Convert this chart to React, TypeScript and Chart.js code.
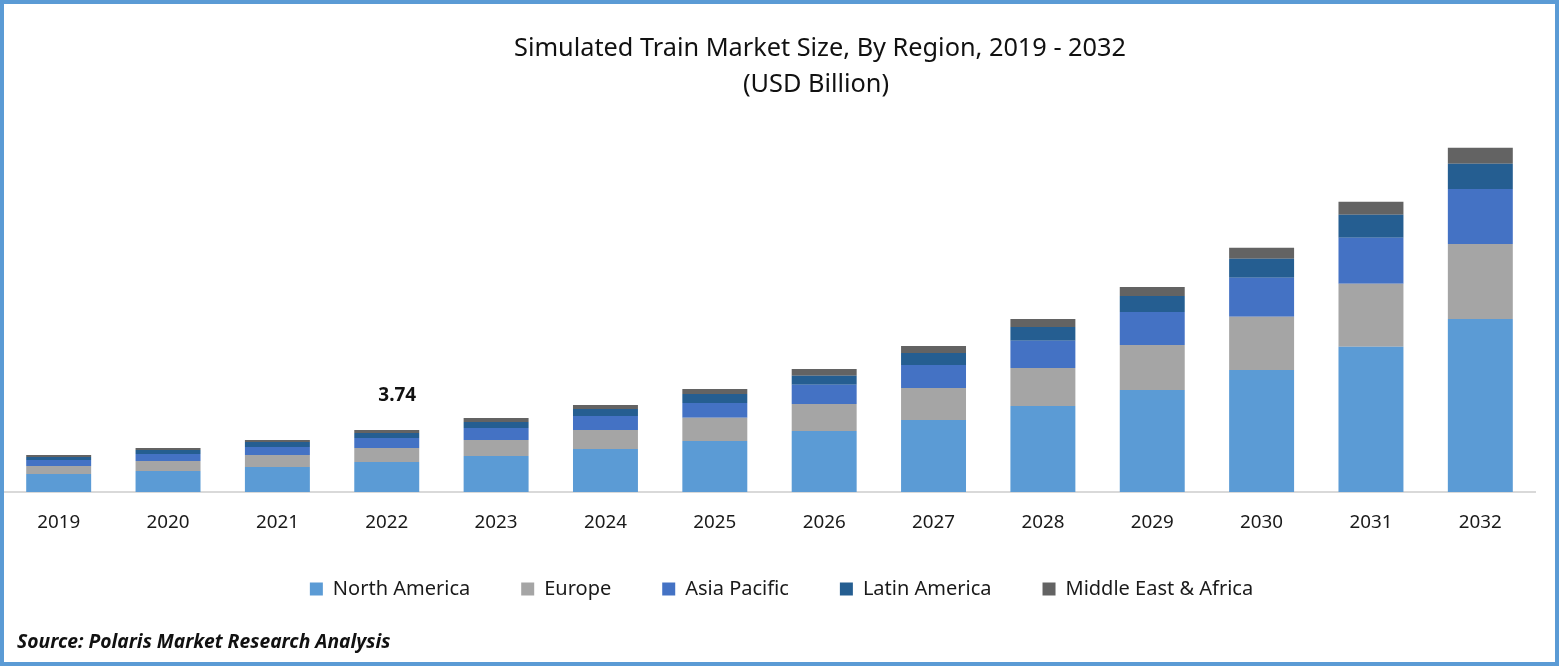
import React, { useEffect, useRef } from "react";
import { Chart, registerables } from "chart.js";

Chart.register(...registerables);

const years = ["2019","2020","2021","2022","2023","2024","2025","2026","2027","2028","2029","2030","2031","2032"];
const northAmerica = [1.09,1.27,1.51,1.81,2.17,2.59,3.08,3.68,4.34,5.19,6.15,7.36,8.75,10.43];
const europe = [0.48,0.60,0.72,0.84,0.97,1.15,1.39,1.63,1.93,2.29,2.71,3.20,3.80,4.52];
const asiaPacific = [0.36,0.42,0.48,0.60,0.72,0.84,0.90,1.15,1.39,1.63,1.99,2.35,2.77,3.32];
const latinAmerica = [0.18,0.24,0.30,0.30,0.36,0.42,0.54,0.54,0.72,0.84,0.97,1.15,1.39,1.51];
const middleEastAfrica = [0.12,0.12,0.12,0.19,0.24,0.24,0.30,0.42,0.42,0.48,0.54,0.66,0.78,0.97];
const calloutYear = "2022";
const calloutText = "3.74";
const titleLine1 = "Simulated Train Market Size, By Region, 2019 - 2032";
const titleLine2 = "(USD Billion)";
const sourceText = "Source: Polaris Market Research Analysis";

const FONT = "'Noto Sans', 'Open Sans', sans-serif";

const callout = {
  id: "callout",
  afterLayout(chart: any) {
    // the tick labels need a taller axis box than the gap to the legend allows
    chart.legend.top -= 8;
    chart.legend.bottom -= 8;
  },
  afterDatasetsDraw(chart: any) {
    const { ctx, scales } = chart;
    const i = years.indexOf(calloutYear);
    const total = [northAmerica, europe, asiaPacific, latinAmerica, middleEastAfrica].reduce((s, a) => s + a[i], 0);
    ctx.save();
    ctx.font = `bold 19px ${FONT}`;
    ctx.fillStyle = "#111111";
    ctx.textAlign = "center";
    ctx.textBaseline = "middle";
    ctx.fillText(calloutText, scales.x.getPixelForValue(i) + 10.5, scales.y.getPixelForValue(total) - 34);
    ctx.restore();
  },
};

export default function App() {
  const ref = useRef<HTMLCanvasElement>(null);
  useEffect(() => {
    const mk = (label: string, data: number[], color: string) => ({
      label, data, backgroundColor: color, borderWidth: 0,
      barPercentage: 0.594, categoryPercentage: 1,
    });
    const chart = new Chart(ref.current!, {
      type: "bar",
      data: {
        labels: years,
        datasets: [
          mk("North America", northAmerica, "#5B9BD5"),
          mk("Europe", europe, "#A5A5A5"),
          mk("Asia Pacific", asiaPacific, "#4472C4"),
          mk("Latin America", latinAmerica, "#255E91"),
          mk("Middle East & Africa", middleEastAfrica, "#636363"),
        ],
      },
      options: {
        responsive: false,
        animation: false,
        devicePixelRatio: 1,
        layout: { padding: { left: 4, right: 0, top: 127, bottom: 49 } },
        plugins: {
          title: { display: false },
          tooltip: { enabled: false },
          legend: {
            display: true,
            position: "bottom",
            labels: {
              boxWidth: 13, boxHeight: 13, padding: 51,
              color: "#1a1a1a",
              font: { family: FONT, size: 20 },
            },
          },
        },
        scales: {
          x: {
            stacked: true,
            afterFit(s: any) { s.height = 44; },
            grid: { display: false, drawTicks: false },
            border: { display: true, color: "#D9D9D9", width: 2 },
            ticks: { color: "#1a1a1a", padding: 19, maxRotation: 0, autoSkip: false, font: { family: FONT, size: 18.8 } },
          },
          y: {
            stacked: true,
            position: "right",
            min: 0,
            max: 22,
            afterFit(s: any) { s.width = 24; },
            grid: { display: false, drawTicks: false },
            border: { display: false },
            ticks: { display: false },
          },
        },
      },
      plugins: [callout],
    } as any);
    return () => chart.destroy();
  }, []);

  const text: React.CSSProperties = { position: "absolute", whiteSpace: "nowrap", fontFamily: FONT, color: "#111", lineHeight: 1 };
  return (
    <div style={{ position: "fixed", left: 0, top: 0, width: 1559, height: 666, background: "#fff", overflow: "hidden" }}>
      <canvas ref={ref} width={1559} height={666} style={{ position: "absolute", left: 0, top: 0, display: "block" }} />
      <div style={{ position: "absolute", inset: 0, border: "4px solid #5B9BD5", boxSizing: "border-box", pointerEvents: "none" }} />
      <div style={{ ...text, left: 820, top: 34, fontSize: 25.3, transform: "translateX(-50%)" }}>{titleLine1}</div>
      <div style={{ ...text, left: 816, top: 70, fontSize: 25.3, transform: "translateX(-50%)" }}>{titleLine2}</div>
      <div style={{ ...text, left: 17, top: 631, fontSize: 19.3, fontWeight: 700, fontStyle: "italic" }}>{sourceText}</div>
    </div>
  );
}
